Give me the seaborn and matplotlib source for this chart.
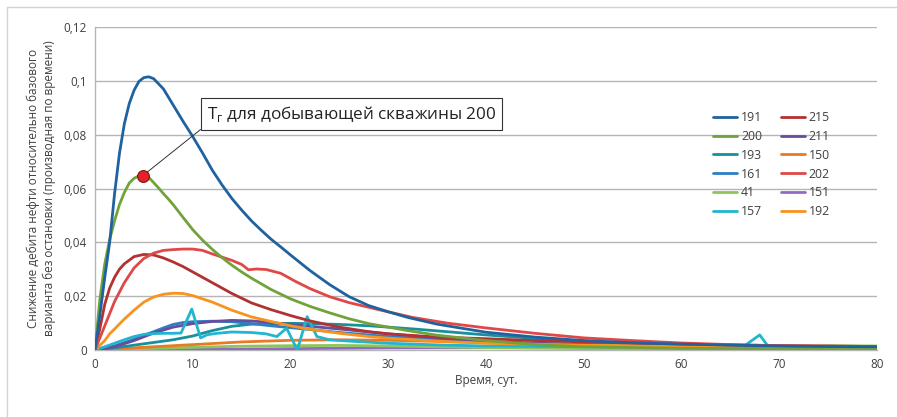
import matplotlib
matplotlib.use("Agg")
import matplotlib.pyplot as plt
from matplotlib.patches import Rectangle
import seaborn as sns
import pandas as pd

# ---------------- data ----------------
x_191 = [0, 0.5, 1, 1.5, 2, 2.5, 3, 3.5, 4, 4.5, 5, 5.5, 6, 7, 8, 9, 10, 11, 12, 13, 14, 15, 16, 17, 18, 19, 20, 22, 24, 26, 28, 30, 32, 35, 40, 45, 50, 55, 60, 65, 70, 75, 80]
y_191 = [0, 0.013, 0.027, 0.040, 0.058, 0.073, 0.084, 0.0915, 0.0965, 0.0998, 0.1012, 0.1015, 0.1008, 0.097, 0.091, 0.085, 0.0793, 0.0732, 0.0668, 0.0613, 0.0563, 0.052, 0.048, 0.0445, 0.0412, 0.0383, 0.0353, 0.0295, 0.0243, 0.0198, 0.0165, 0.0142, 0.0121, 0.0096, 0.0066, 0.0048, 0.0035, 0.0027, 0.0022, 0.0018, 0.0015, 0.0013, 0.0012]

x_200 = [0, 0.5, 1, 1.5, 2, 2.5, 3, 3.5, 4, 4.5, 5, 5.5, 6, 6.5, 7, 7.5, 8, 9, 10, 11, 12, 13, 14, 15, 16, 18, 20, 22, 24, 26, 28, 30, 32, 35, 40, 45, 50, 60, 70, 80]
y_200 = [0, 0.019, 0.032, 0.041, 0.048, 0.054, 0.0585, 0.062, 0.0638, 0.0647, 0.0648, 0.0641, 0.0622, 0.0602, 0.0581, 0.0561, 0.054, 0.0493, 0.0447, 0.0408, 0.0374, 0.0343, 0.0315, 0.029, 0.0267, 0.0225, 0.019, 0.0162, 0.0138, 0.0116, 0.0098, 0.0085, 0.0072, 0.0055, 0.0035, 0.002, 0.0012, 0.0006, 0.0004, 0.0003]

x_215 = [0, 0.5, 1, 1.5, 2, 2.5, 3, 4, 5, 6, 7, 8, 9, 10, 12, 14, 16, 18, 20, 22, 25, 28, 30, 35, 40, 45, 50, 60, 70, 80]
y_215 = [0, 0.008, 0.017, 0.023, 0.027, 0.030, 0.032, 0.0347, 0.0355, 0.0353, 0.0342, 0.0327, 0.031, 0.029, 0.025, 0.021, 0.0175, 0.015, 0.0128, 0.0108, 0.0085, 0.0068, 0.006, 0.0048, 0.0042, 0.0035, 0.003, 0.0022, 0.0016, 0.0013]

x_202 = [0, 1, 2, 3, 4, 5, 6, 7, 8, 9, 10, 11, 12, 13, 14, 15, 15.7, 16.5, 17.5, 19, 20.5, 22, 24, 26, 29, 32.5, 36, 40, 45, 50, 55, 60, 65, 70, 75, 80]
y_202 = [0, 0.009, 0.018, 0.025, 0.0305, 0.034, 0.036, 0.037, 0.0373, 0.0375, 0.0375, 0.037, 0.0357, 0.0345, 0.0333, 0.0318, 0.0298, 0.0301, 0.0299, 0.0285, 0.0255, 0.0228, 0.0198, 0.0176, 0.015, 0.0121, 0.0100, 0.0082, 0.0062, 0.0045, 0.0035, 0.0026, 0.002, 0.0016, 0.0014, 0.0013]

x_192 = [0, 1, 1.5, 2, 3, 4, 5, 6, 7, 8, 9, 10, 12, 14, 16, 18, 20, 22, 25, 28, 30, 35, 40, 50, 60, 70, 80]
y_192 = [0, 0.0035, 0.006, 0.0078, 0.0115, 0.0148, 0.0178, 0.0197, 0.0207, 0.0211, 0.021, 0.0202, 0.0178, 0.0148, 0.0123, 0.0106, 0.009, 0.0077, 0.0062, 0.005, 0.0044, 0.0033, 0.0025, 0.0018, 0.0015, 0.0014, 0.0012]

x_161 = [0, 2, 4, 5, 6, 7, 8, 9, 10, 12, 14, 16, 18, 20, 22, 25, 30, 35, 40, 50, 60, 70, 80]
y_161 = [0, 0.0015, 0.004, 0.0055, 0.0068, 0.0082, 0.0095, 0.0102, 0.0105, 0.0107, 0.0105, 0.0098, 0.009, 0.0083, 0.0076, 0.0065, 0.005, 0.0038, 0.003, 0.002, 0.0015, 0.0012, 0.001]

x_211 = [0, 2, 4, 6, 8, 10, 12, 14, 16, 18, 20, 22, 25, 30, 35, 38, 45, 50, 60, 70, 80]
y_211 = [0, 0.0012, 0.0035, 0.0063, 0.0085, 0.0098, 0.0106, 0.011, 0.0108, 0.0102, 0.0095, 0.0088, 0.0078, 0.006, 0.0045, 0.0036, 0.0025, 0.002, 0.0014, 0.001, 0.0008]

x_193 = [0, 2, 4, 6, 8, 10, 12, 14, 16, 18, 20, 22, 25, 28, 30, 33, 36, 40, 45, 50, 55, 60, 70, 80]
y_193 = [0, 0.0008, 0.0018, 0.0028, 0.0038, 0.0052, 0.0072, 0.0088, 0.0096, 0.0098, 0.0099, 0.0098, 0.0095, 0.009, 0.0085, 0.0077, 0.0068, 0.0056, 0.0043, 0.0033, 0.0025, 0.0019, 0.0013, 0.001]

x_157 = [0, 1, 2, 3, 4, 5, 6, 7, 8, 8.8, 9.9, 10.8, 11.5, 12.5, 14, 16, 17.5, 18.6, 19.6, 20.7, 21.7, 22.7, 24, 26, 30, 35, 40, 50, 60, 66.3, 68, 68.9, 70, 75, 80]
y_157 = [0, 0.0012, 0.0025, 0.0038, 0.005, 0.0058, 0.0061, 0.0062, 0.0062, 0.0063, 0.0152, 0.0045, 0.0057, 0.0062, 0.0067, 0.0065, 0.006, 0.005, 0.0081, 0.0, 0.0124, 0.005, 0.0038, 0.0033, 0.0025, 0.0019, 0.0015, 0.0012, 0.0011, 0.0012, 0.0056, 0.0012, 0.0011, 0.001, 0.001]

x_41 = [0, 5, 10, 15, 20, 25, 30, 40, 50, 55, 60, 70, 75, 80]
y_41 = [0, 0.0005, 0.001, 0.0014, 0.0016, 0.0017, 0.0015, 0.0009, 0.0005, 0.0004, 0.0005, 0.0012, 0.0016, 0.0015]

x_150 = [0, 5, 10, 15, 20, 25, 30, 35, 40, 50, 60, 70, 80]
y_150 = [0, 0.001, 0.002, 0.003, 0.0036, 0.0038, 0.0036, 0.0032, 0.0027, 0.002, 0.0016, 0.0014, 0.0013]

x_151 = [0, 10, 20, 30, 40, 50, 60, 80]
y_151 = [0, 0.0002, 0.0005, 0.0008, 0.0009, 0.0009, 0.0008, 0.0007]

series_names = ["191", "200", "193", "161", "41", "157", "215", "211", "150", "202", "151", "192"]
series_x = {"191": x_191, "200": x_200, "193": x_193, "161": x_161, "41": x_41, "157": x_157,
            "215": x_215, "211": x_211, "150": x_150, "202": x_202, "151": x_151, "192": x_192}
series_y = {"191": y_191, "200": y_200, "193": y_193, "161": y_161, "41": y_41, "157": y_157,
            "215": y_215, "211": y_211, "150": y_150, "202": y_202, "151": y_151, "192": y_192}
colors = {"191": "#1f62a0", "200": "#72a23a", "193": "#17909c", "161": "#2b7fc4",
          "41": "#8cc65a", "157": "#21b5cf", "215": "#b23232", "211": "#6b4c9c",
          "150": "#e87a25", "202": "#e04848", "151": "#8f6cc0", "192": "#f7941e"}
draw_order = ["151", "41", "150", "193", "161", "211", "157", "192", "215", "202", "200", "191"]

marker_x = [4.9]
marker_y = [0.0648]
annot_text = "T$_\\mathregular{г}$ для добывающей скважины 200"

xticks = [0, 10, 20, 30, 40, 50, 60, 70, 80]
yticks = [0, 0.02, 0.04, 0.06, 0.08, 0.1, 0.12]
ytick_labels = ["0", "0,02", "0,04", "0,06", "0,08", "0,1", "0,12"]

# ---------------- plot ----------------
sns.set_theme(style="white")
plt.rcParams["font.family"] = ["Open Sans", "DejaVu Sans"]
plt.rcParams["mathtext.fontset"] = "custom"
plt.rcParams["mathtext.rm"] = "Open Sans"
plt.rcParams["lines.solid_joinstyle"] = "round"
plt.rcParams["lines.solid_capstyle"] = "round"

rows = []
for name in draw_order:
    for xv, yv in zip(series_x[name], series_y[name]):
        rows.append({"t": xv, "v": yv, "well": name})
df = pd.DataFrame(rows)

fig = plt.figure(figsize=(8.97, 4.17), dpi=100)
fig.patches.append(Rectangle((7 / 897, -0.1), 1.2, (417 - 7) / 417 + 0.1, transform=fig.transFigure,
                             fill=False, edgecolor="#d3d3d3", linewidth=1.0, zorder=0))
ax = fig.add_axes([95 / 897, 67 / 417, 782 / 897, 323 / 417])

sns.lineplot(data=df, x="t", y="v", hue="well", hue_order=draw_order, palette=colors,
             estimator=None, sort=False, linewidth=2.0, ax=ax, legend=False, zorder=3)

ax.set_xlim(0, 80)
ax.set_ylim(0, 0.12)
ax.set_xticks(xticks)
ax.set_yticks(yticks)
ax.set_yticklabels(ytick_labels)
ax.tick_params(axis="both", length=0, labelsize=8.5, labelcolor="#404040", pad=6)
ax.yaxis.grid(True, color="#b5b5b5", linewidth=1.0)
ax.xaxis.grid(False)
for s in ["top", "right"]:
    ax.spines[s].set_visible(False)
for s in ["left", "bottom"]:
    ax.spines[s].set_color("#b5b5b5")
    ax.spines[s].set_linewidth(1.0)

ax.set_xlabel("Время, сут.", fontsize=8.5, color="#404040", labelpad=2)
ax.set_ylabel("Снижение дебита нефти относительно базового\nварианта без остановки (производная по времени)",
              fontsize=8.5, color="#404040", labelpad=5, linespacing=1.25)

# legend
handles = {name: plt.Line2D([], [], color=colors[name], linewidth=2.0) for name in series_names}
leg = ax.legend([handles[n] for n in series_names], series_names, ncol=2, frameon=False,
                loc="upper left", bbox_to_anchor=(0.79, 0.74), fontsize=8.8,
                handlelength=2.0, handletextpad=0.3, columnspacing=1.5, labelspacing=0.48,
                borderpad=0, borderaxespad=0)
for t in leg.get_texts():
    t.set_color("#404040")

# annotation
ax.plot(marker_x, marker_y, "o", markersize=8.5, markerfacecolor="#e8202a",
        markeredgecolor="#7a1515", markeredgewidth=0.8, zorder=6)
ax.annotate(annot_text, xy=(marker_x[0], marker_y[0]), xytext=(11.45, 0.0838),
            fontsize=12.3, color="#222222", ha="left", va="bottom", zorder=7,
            bbox=dict(boxstyle="square,pad=0.35", fc="white", ec="#333333", lw=0.8),
            arrowprops=dict(arrowstyle="-", color="#333333", lw=0.7, relpos=(0, 0),
                            shrinkA=0, shrinkB=4))

fig.savefig("out.png", dpi=100)
